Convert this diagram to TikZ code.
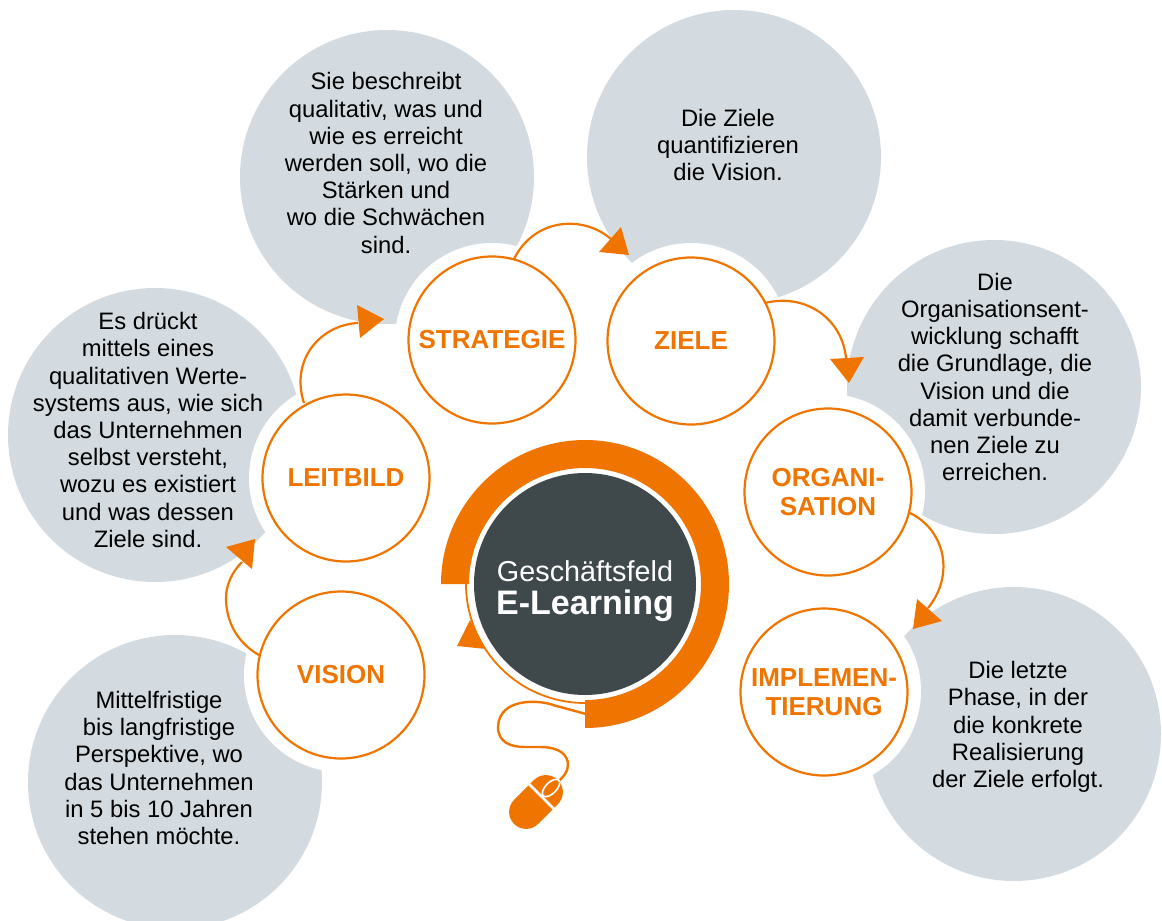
\documentclass[tikz,border=0pt]{standalone}
\usepackage{fontspec}
\usetikzlibrary{shapes.geometric}
\setmainfont{Liberation Sans}
\definecolor{eorange}{RGB}{239,117,0}
\definecolor{egrey}{RGB}{212,219,224}
\definecolor{edark}{RGB}{63,73,75}
\tikzset{
  bubble/.style={circle,fill=egrey,minimum size=294pt,inner sep=0pt},
  halo/.style={circle,fill=white,minimum size=194pt,inner sep=0pt},
  phase/.style={circle,draw=eorange,line width=2.2pt,fill=white,minimum size=167pt,inner sep=0pt,align=center,
    text=eorange,font=\fontsize{26}{29}\selectfont\bfseries},
  blurb/.style={align=center,text=black,font=\fontsize{23.8}{27.2}\selectfont},
  link/.style={draw=eorange,line width=2.2pt},
  tip/.style={fill=eorange}
}
\begin{document}
\begin{tikzpicture}[x=1pt,y=-1pt]
  \useasboundingbox (0,0) rectangle (1162,921);
  \clip (0,0) rectangle (1162,921);
  % grey bubbles
  \node[bubble] (bstrategie) at (387,177) {};
  \node[bubble] (bziele) at (734,157) {};
  \node[bubble] (borga) at (994,387) {};
  \node[bubble] (bimpl) at (1014,734) {};
  \node[bubble] (bvision) at (175,782) {};
  \node[bubble] (bleitbild) at (155,435) {};
  % white rims
  \node[halo] (hstrategie) at (492,340) {};
  \node[halo] (hziele) at (691,340) {};
  \node[halo] (horga) at (828,491) {};
  \node[halo] (himpl) at (824,691) {};
  \node[halo] (hvision) at (341,675) {};
  \node[halo] (hleitbild) at (346,478) {};
  % texts in the bubbles
  \node[blurb] (tstrategie) at (386,163) {Sie beschreibt\\qualitativ, was und\\wie es erreicht\\werden soll, wo die\\Stärken und\\wo die Schwächen\\sind.};
  \node[blurb] (tziele) at (728,145) {Die Ziele\\quantifizieren\\die Vision.};
  \node[blurb] (torga) at (995,377) {Die\\Organisationsent-\\wicklung schafft\\die Grundlage, die\\Vision und die\\damit verbunde-\\nen Ziele zu\\erreichen.};
  \node[blurb] (timpl) at (1018,727) {Die letzte\\Phase, in der\\die konkrete\\Realisierung\\der Ziele erfolgt.};
  \node[blurb] (tvision) at (159,768) {Mittelfristige\\bis langfristige\\Perspektive, wo\\das Unternehmen\\in 5 bis 10 Jahren\\stehen möchte.};
  \node[blurb] (tleitbild) at (148,430) {Es drückt\\mittels eines\\qualitativen Werte-\\systems aus, wie sich\\das Unternehmen\\selbst versteht,\\wozu es existiert\\und was dessen\\Ziele sind.};
  % arrows between the phases
  \coordinate (a1) at (259,655);
  \coordinate (a2) at (242,562);
  \draw[link] (a1) .. controls (236,642) and (226,620) .. (226,598) .. controls (226,585) and (232,572) .. (a2);
  \fill[tip] (226,547) -- (255,539) -- (252,569) -- cycle;
  \coordinate (b1) at (304,403);
  \coordinate (b2) at (358,323);
  \draw[link] (b1) .. controls (290,360) and (320,325) .. (b2);
  \fill[tip] (357,305) -- (384,319) -- (360,338) -- cycle;
  \coordinate (c1) at (514,259);
  \coordinate (c2) at (612,240);
  \draw[link] (c1) .. controls (535,217) and (585,215) .. (c2);
  \fill[tip] (621,227) -- (629,255) -- (599,252) -- cycle;
  \coordinate (d1) at (765,303);
  \coordinate (d2) at (846,358);
  \draw[link] (d1) .. controls (805,293) and (842,318) .. (d2);
  \fill[tip] (830,359) -- (864,357) -- (849,383) -- cycle;
  \coordinate (e1) at (910,513);
  \coordinate (e2) at (928,608);
  \draw[link] (e1) .. controls (945,530) and (955,575) .. (e2);
  \fill[tip] (917,599) -- (942,621) -- (913,629) -- cycle;
  % phases
  \node[phase] (vision) at (341,675) {VISION};
  \node[phase] (leitbild) at (346,478) {LEITBILD};
  \node[phase] (strategie) at (492,340) {STRATEGIE};
  \node[phase] (ziele) at (691,341) {ZIELE};
  \node[phase] (orga) at (828,492) {ORGANI-\\SATION};
  \node[phase] (impl) at (824,692) {IMPLEMEN-\\TIERUNG};
  % centre
  \fill[eorange] (441,584) arc[start angle=180,end angle=450,radius=144] -- (585,700) arc[start angle=450,end angle=180,radius=116] -- cycle;
  \draw[eorange,line width=1.8pt] (585,703) arc[start angle=90,end angle=180,radius=119];
  \fill[tip] (470,620) -- (457,646) -- (486,649) -- cycle;
  \node[circle,fill=edark,minimum size=222pt,inner sep=0pt] (centre) at (585,584) {};
  \node[align=center,text=white,font=\fontsize{28.8}{33}\selectfont] (centretext) at (585,591)
    {Geschäftsfeld\\\fontsize{34}{33}\selectfont\bfseries E-Learning};
  % mouse
  \draw[eorange,line width=2.4pt] (586,714) -- (553,705) .. controls (540,700) and (499,697) .. (498,727)
    .. controls (498,742) and (510,747) .. (525,747) -- (540,747)
    .. controls (560,747) and (568,755) .. (568,765) .. controls (568,772) and (563,777) .. (558,782);
  \node[rounded corners=17pt,fill=eorange,minimum width=62pt,minimum height=34pt,inner sep=0pt,rotate=45] (mouse) at (536,802) {};
  \draw[white,line width=2.6pt] (528,783) -- (556,811);
  \node[ellipse,draw=white,line width=1.6pt,fill=eorange,minimum width=22pt,minimum height=11pt,inner sep=0pt,rotate=45] (wheel) at (551,788) {};
\end{tikzpicture}
\end{document}
